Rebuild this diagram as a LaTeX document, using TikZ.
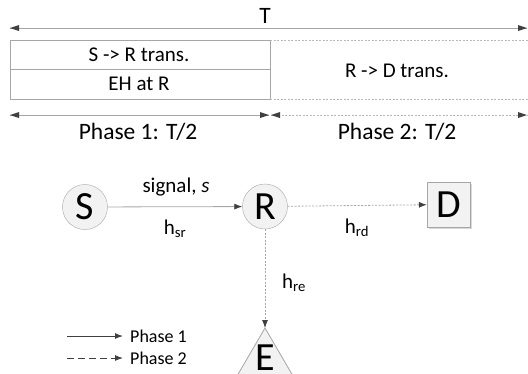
\documentclass[tikz,border=0pt]{standalone}
\usepackage{fontspec}
\setmainfont{Carlito}
\usetikzlibrary{arrows.meta}
\definecolor{ln}{HTML}{A6A6A6}
\definecolor{tip}{HTML}{404040}
\definecolor{nf}{HTML}{F2F2F2}
\begin{document}
\begin{tikzpicture}[x=1pt,y=-1pt,
  lbl/.style={font=\fontsize{21}{24}\selectfont, inner sep=0pt},
  big/.style={font=\fontsize{23.5}{26}\selectfont, inner sep=0pt},
  leg/.style={font=\fontsize{18}{21}\selectfont, inner sep=0pt, anchor=west},
  nodec/.style={circle, draw=ln, fill=nf, minimum size=45pt, inner sep=0pt, font=\fontsize{40}{44}\selectfont},
  noder/.style={rectangle, draw=ln, fill=nf, minimum width=43pt, minimum height=45pt, inner sep=0pt, font=\fontsize{40}{44}\selectfont},
  dsh/.style={dash pattern=on 2pt off 1.5pt},
]
\useasboundingbox (0,0) rectangle (528,373);
\begin{scope}
\clip (0,0) rectangle (528,373);
% top span
\coordinate (tl) at (10,28);
\coordinate (tr) at (527,28);
\draw[line width=0.8pt, draw=ln] (tl) -- (tr);
\fill[tip] (tl) -- ++(9,-3) -- ++(0,6) -- cycle;
\fill[tip] (tr) -- ++(-9,-3) -- ++(0,6) -- cycle;
\node[big] (T) at (265,16) {T};
% box
\draw[ln, line width=0.8pt] (270,40) -- (10,40) -- (10,99) -- (270,99) -- cycle;
\draw[ln, line width=0.8pt] (10,69) -- (270,69);
\draw[ln!80, line width=0.8pt, dsh] (270,40) -- (528,40);
\draw[ln!80, line width=0.8pt, dsh] (270,99) -- (528,99);
\node[lbl] (sr) at (139,55) {S -> R trans.};
\node[lbl] (eh) at (139,84) {EH at R};
\node[lbl] (rd) at (397,71) {R -> D trans.};
% phase spans
\coordinate (p1l) at (10,115);
\coordinate (p1r) at (269,115);
\coordinate (p2l) at (271,115);
\coordinate (p2r) at (527,115);
\draw[ln, line width=0.8pt] (p1l) -- (p1r);
\draw[ln!80, line width=0.8pt, dsh] (p2l) -- (p2r);
\fill[tip] (p1l) -- ++(9,-3) -- ++(0,6) -- cycle;
\fill[tip] (p1r) -- ++(-9,-3) -- ++(0,6) -- cycle;
\fill[tip] (p2l) -- ++(9,-3) -- ++(0,6) -- cycle;
\fill[tip] (p2r) -- ++(-9,-3) -- ++(0,6) -- cycle;
\node[big] (ph1) at (138,132) {Phase 1: T/2};
\node[big] (ph2) at (397,132) {Phase 2: T/2};
% network
\node[nodec] (S) at (85,207) {S};
\node[nodec] (R) at (265,206.5) {R};
\fill[black!15] (429,184) rectangle (472,229);
\node[noder] (D) at (448.5,204.5) {D};
\coordinate (Etop) at (265,328);
\fill[nf] (Etop) -- (230,388) -- (300,388) -- cycle;
\draw[ln, line width=0.8pt] (230,388) -- (Etop) -- (300,388);
\node[font=\fontsize{40}{44}\selectfont, inner sep=0pt, anchor=base] (E) at (265,370) {E};
\draw[ln, line width=0.8pt, -{Latex[length=8pt,width=6pt,color=tip]}] (S) -- (R);
\draw[ln, line width=0.8pt, dsh, -{Latex[length=8pt,width=6pt,color=tip]}] (R) -- (D);
\draw[ln, line width=0.8pt, dsh, -{Latex[length=8pt,width=6pt,color=tip]}] (R) -- (Etop);
\node[lbl] (sig) at (176,187) {signal, \textit{s}};
\node[lbl] (hsr) at (175,229) {h\textsubscript{sr}};
\node[lbl] (hrd) at (357,228) {h\textsubscript{rd}};
\node[lbl] (hre) at (294,283) {h\textsubscript{re}};
% legend
\coordinate (l1a) at (67,336);
\coordinate (l1b) at (123,336);
\coordinate (l2a) at (67,358);
\coordinate (l2b) at (123,358);
\draw[tip, line width=1pt, -{Latex[length=8pt,width=6pt]}] (l1a) -- (l1b);
\draw[tip, line width=1pt, dash pattern=on 7pt off 4pt, -{Latex[length=8pt,width=6pt]}] (l2a) -- (l2b);
\node[leg] (lg1) at (130,336) {Phase 1};
\node[leg] (lg2) at (130,358) {Phase 2};
\end{scope}
\end{tikzpicture}
\end{document}
